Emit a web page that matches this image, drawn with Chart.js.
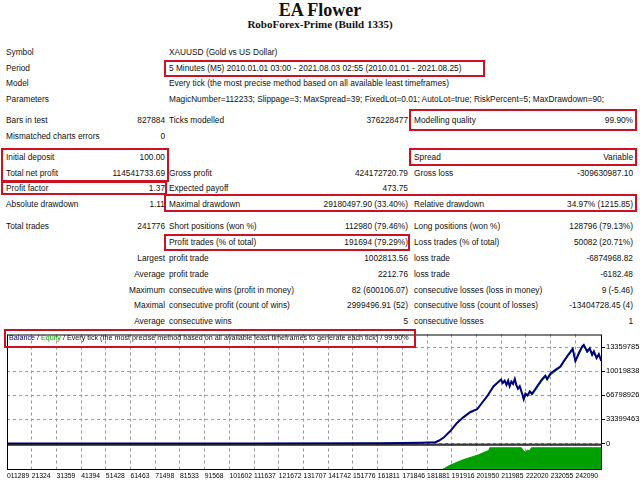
<!DOCTYPE html>
<html>
<head>
<meta charset="utf-8">
<script src="https://cdn.jsdelivr.net/npm/chart.js@4.4.0/dist/chart.umd.min.js"></script>
<style>
html, body { margin: 0; padding: 0; background: #fff; }
#page { position: relative; width: 640px; height: 480px; overflow: hidden;
  font-family: 'Liberation Sans', Arial, sans-serif; font-size: 8.3px; color: #111; }
.t { position: absolute; white-space: nowrap; line-height: 10px; }
.box { position: absolute; border: 2px solid #cc1122; box-sizing: border-box; }
#title { position: absolute; left: 0; width: 640px; top: 0; text-align: center;
  font: bold 18px 'Liberation Serif', serif; line-height: 20px; }
#sub { position: absolute; left: 0; width: 640px; top: 17px; text-align: center;
  font: bold 11px 'Liberation Serif', serif; line-height: 14px; }
#wrap { position: absolute; left: 0; top: 329px; width: 640px; height: 151px; }
#legend { position: absolute; left: 9px; top: 333px; z-index: 2; font-size: 7.2px; }
</style>
</head>
<body>
<div id="page">
  <div id="title">EA Flower</div>
  <div id="sub">RoboForex-Prime (Build 1335)</div>
  <div id="wrap"><canvas id="myChart"></canvas></div>
  <div id="legend" class="t"><span style="color:#000080">Balance</span> / <span style="color:#00a000">Equity</span> / Every tick (the most precise method based on all available least timeframes to generate each tick) / 99.90%</div>
</div>
<script>
// balance / equity by trade number
const balTrade = [11289, 110000, 162900, 179100, 185200, 186600, 188600, 191300, 194000, 196700,
  199500, 202200, 204200, 206200, 208900, 211000, 211900, 212600, 213400, 214100,
  214800, 215400, 216100, 216800, 217500, 218100, 218800, 219500, 220500, 221100,
  221800, 222700, 223600, 224500, 225900, 227200, 228600, 229900, 230600, 232000,
  234000, 236000, 237400, 239400, 241000, 242100, 243500, 244800, 245500, 246900,
  247900, 248900, 249600, 250700, 251600, 252600];
const balance = [100, 5000, 200000, 1200000, 1800000, 3800000, 8200000, 17300000, 28500000, 36600000,
  43700000, 47500000, 56500000, 65300000, 79500000, 85900000, 88600000, 84000000, 87200000, 81300000,
  87200000, 79500000, 85900000, 82600000, 89400000, 81300000, 75900000, 79500000, 69100000, 61500000,
  69100000, 66900000, 72300000, 69100000, 75900000, 82600000, 89400000, 94000000, 89400000, 97100000,
  102100000, 106800000, 114300000, 124100000, 131300000, 114300000, 125500000, 134500000, 136700000, 127800000,
  132200000, 123200000, 127800000, 118700000, 124100000, 114600000];
const equity = [100, 5000, 200000, 1200000, 1800000, 3800000, 8000000, 17000000, 28300000, 36400000,
  43500000, 47300000, 56200000, 65000000, 79000000, 85400000, 88000000, 83000000, 86500000, 80500000,
  86500000, 78800000, 85200000, 81800000, 88600000, 80500000, 75000000, 78500000, 67800000, 60500000,
  67500000, 65200000, 70500000, 67000000, 73500000, 80200000, 87000000, 92500000, 87500000, 95000000,
  100000000, 105500000, 113000000, 122500000, 130000000, 113500000, 123000000, 132500000, 135500000, 125500000,
  130500000, 121500000, 126000000, 117000000, 122800000, 114400000];

// lot size pane
const sizeTrade = [11289, 187900, 191300, 196700, 202200, 206900, 207300, 220200, 221100, 221800, 222600, 223400, 224200, 252900];
const sizeLots = [0, 0.5, 11, 23.5, 33, 44, 50, 50, 42, 40, 45, 43, 50, 50];

const xTickLabels = ['011289', '21324', '31359', '41394', '51428', '61463', '71498', '81533', '91568', '101602',
  '111637', '121672', '131707', '141742', '151776', '161811', '171846', '181881', '191916', '201950',
  '211985', '222020', '232055', '242090'];
const yTickValues = [0, 33399463, 66798926, 100198389, 133597852];
const yTickLabels = ['0', '33399463', '66798926', '10019838', '13359785'];

// report text
const c1 = 6, v1 = 165, c2 = 169, v2 = 408, c3 = 414, v3 = 633;
const rows = [
  [52, [c1, 'Symbol'], [c2, 'XAUUSD (Gold vs US Dollar)']],
  [68, [c1, 'Period'], [c2, '5 Minutes (M5) 2010.01.01 03:00 - 2021.08.03 02:55 (2010.01.01 - 2021.08.25)']],
  [83, [c1, 'Model'], [c2, 'Every tick (the most precise method based on all available least timeframes)']],
  [99, [c1, 'Parameters'], [c2, 'MagicNumber=112233; Slippage=3; MaxSpread=39; FixedLot=0.01; AutoLot=true; RiskPercent=5; MaxDrawdown=90;']],
  [120, [c1, 'Bars in test'], [-v1, '827884'], [c2, 'Ticks modelled'], [-v2, '376228477'], [c3, 'Modelling quality'], [-v3, '99.90%']],
  [136, [c1, 'Mismatched charts errors'], [-v1, '0']],
  [157, [c1, 'Initial deposit'], [-v1, '100.00'], [c3, 'Spread'], [-v3, 'Variable']],
  [173, [c1, 'Total net profit'], [-v1, '114541733.69'], [c2, 'Gross profit'], [-v2, '424172720.79'], [c3, 'Gross loss'], [-v3, '-309630987.10']],
  [188, [c1, 'Profit factor'], [-v1, '1.37'], [c2, 'Expected payoff'], [-v2, '473.75']],
  [204, [c1, 'Absolute drawdown'], [-v1, '1.11'], [c2, 'Maximal drawdown'], [-v2, '29180497.90 (33.40%)'], [c3, 'Relative drawdown'], [-v3, '34.97% (1215.85)']],
  [226, [c1, 'Total trades'], [-v1, '241776'], [c2, 'Short positions (won %)'], [-v2, '112980 (79.46%)'], [c3, 'Long positions (won %)'], [-v3, '128796 (79.13%)']],
  [242, [c2, 'Profit trades (% of total)'], [-v2, '191694 (79.29%)'], [c3, 'Loss trades (% of total)'], [-v3, '50082 (20.71%)']],
  [258, [-v1, 'Largest'], [c2, 'profit trade'], [-v2, '1002813.56'], [c3, 'loss trade'], [-v3, '-6874968.82']],
  [274, [-v1, 'Average'], [c2, 'profit trade'], [-v2, '2212.76'], [c3, 'loss trade'], [-v3, '-6182.48']],
  [290, [-v1, 'Maximum'], [c2, 'consecutive wins (profit in money)'], [-v2, '82 (600106.07)'], [c3, 'consecutive losses (loss in money)'], [-v3, '9 (-5.46)']],
  [305, [-v1, 'Maximal'], [c2, 'consecutive profit (count of wins)'], [-v2, '2999496.91 (52)'], [c3, 'consecutive loss (count of losses)'], [-v3, '-13404728.45 (4)']],
  [321, [-v1, 'Average'], [c2, 'consecutive wins'], [-v2, '5'], [c3, 'consecutive losses'], [-v3, '1']]
];
// red highlight boxes: left, top, right, bottom
const boxes = [
  [164, 60, 485, 77], [409, 109, 637, 131], [1, 148, 169, 182], [409, 148, 637, 166],
  [1, 181, 167, 195], [164, 194, 637, 212], [164, 234, 410, 251], [4, 329, 416, 348]
];

const page = document.getElementById('page');
rows.forEach(r => {
  for (let i = 1; i < r.length; i++) {
    const d = document.createElement('div');
    d.className = 't';
    d.textContent = r[i][1];
    d.style.top = (r[0] - 5) + 'px';
    if (r[i][0] < 0) d.style.right = (640 + r[i][0]) + 'px';
    else d.style.left = r[i][0] + 'px';
    page.appendChild(d);
  }
});
boxes.forEach(b => {
  const d = document.createElement('div');
  d.className = 'box';
  d.style.left = b[0] + 'px'; d.style.top = b[1] + 'px';
  d.style.width = (b[2] - b[0]) + 'px'; d.style.height = (b[3] - b[1]) + 'px';
  page.appendChild(d);
});

const pts = (xs, ys) => xs.map((x, i) => ({x: x, y: ys[i]}));

// frame round each pane
const frames = {
  id: 'frames',
  afterDraw(chart) {
    const ctx = chart.ctx, x = chart.scales.x;
    ctx.save();
    ctx.strokeStyle = '#000';
    ctx.lineWidth = 1;
    ['y', 'y2'].forEach(id => {
      const s = chart.scales[id];
      ctx.strokeRect(x.left + 0.5, s.top + 0.5, x.right - x.left - 1, s.bottom - s.top - 1);
    });
    ctx.restore();
  }
};

new Chart(document.getElementById('myChart'), {
  type: 'line',
  data: {
    datasets: [{
      label: 'Balance',
      data: pts(balTrade, balance),
      borderColor: '#000080',
      borderWidth: 2,
      yAxisID: 'y'
    }, {
      label: 'Equity',
      data: pts(balTrade, equity),
      borderColor: '#00a000',
      borderWidth: 1,
      yAxisID: 'y'
    }, {
      label: 'Size',
      data: pts(sizeTrade, sizeLots),
      borderColor: '#00a000',
      backgroundColor: '#00a000',
      borderWidth: 1,
      fill: 'origin',
      yAxisID: 'y2'
    }]
  },
  options: {
    responsive: true,
    maintainAspectRatio: false,
    animation: false,
    elements: {point: {radius: 0}, line: {tension: 0}},
    layout: {padding: {left: 7, top: 2, right: 0, bottom: 0}},
    plugins: {legend: {display: false}, tooltip: {enabled: false}},
    scales: {
      x: {
        type: 'linear',
        min: 11289,
        max: 252900,
        afterBuildTicks: s => { s.ticks = xTickLabels.map(l => ({value: Number(l)})); },
        afterFit: s => { s.height = 10; },
        ticks: {
          font: {family: 'Liberation Sans', size: 6.8}, color: '#000', padding: 2, align: 'start', maxRotation: 0,
          autoSkip: false, callback: (v, i) => xTickLabels[i]
        },
        grid: {color: '#9a9a9a', drawTicks: false, tickLength: 0},
        border: {display: false, dash: [3, 3]}
      },
      y: {
        position: 'right',
        stack: 'panes',
        stackWeight: 113,
        min: -1600000,
        max: 151200000,
        afterBuildTicks: s => { s.ticks = yTickValues.map(v => ({value: v})); },
        afterFit: s => { s.width = 38; },
        ticks: {font: {family: 'Liberation Sans', size: 7.5}, color: '#000', padding: 1, callback: (v, i) => yTickLabels[i]},
        grid: {color: '#9a9a9a', tickColor: '#000', tickLength: 3},
        border: {display: false, dash: [3, 3]}
      },
      y2: {
        position: 'right',
        stack: 'panes',
        stackWeight: 26,
        min: 0,
        max: 57,
        afterFit: s => { s.width = 38; },
        ticks: {display: false},
        grid: {display: false},
        border: {display: false}
      }
    }
  },
  plugins: [frames]
});
</script>
</body>
</html>
